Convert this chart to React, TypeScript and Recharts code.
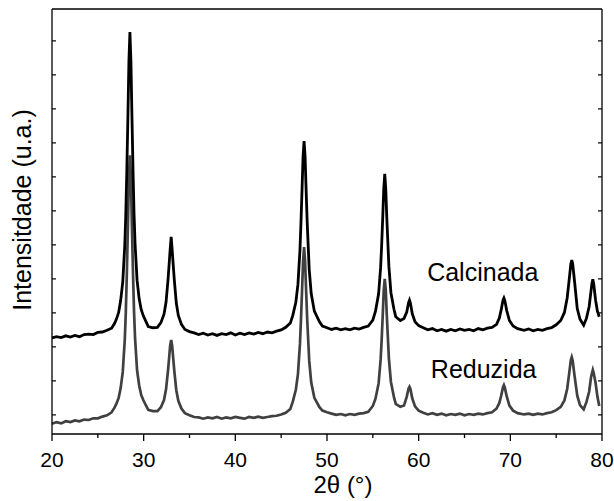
import {Label, Line, LineChart, ReferenceDot, ReferenceLine, XAxis, YAxis} from "recharts";

const twoTheta = [
    20.0, 20.5, 21.0, 21.5, 22.0, 22.5, 23.0, 23.5, 24.0, 24.5, 25.0, 25.5, 26.0, 26.5, 26.82,
    27.04, 27.27, 27.49, 27.72, 27.94, 28.05, 28.16, 28.28, 28.39, 28.5, 28.61, 28.72, 28.84, 28.95, 29.06,
    29.28, 29.51, 29.73, 29.96, 30.18, 30.5, 31.0, 31.5, 31.88, 32.22, 32.44, 32.66, 32.78, 32.89, 33.0,
    33.11, 33.22, 33.34, 33.56, 33.78, 34.12, 34.5, 35.0, 35.5, 36.0, 36.5, 37.0, 37.5, 38.0, 38.5,
    39.0, 39.5, 40.0, 40.5, 41.0, 41.5, 42.0, 42.5, 43.0, 43.5, 44.0, 44.5, 45.0, 45.5, 46.0,
    46.27, 46.6, 46.83, 47.05, 47.16, 47.28, 47.39, 47.5, 47.61, 47.72, 47.84, 48.06, 48.28, 48.62, 49.18,
    49.5, 50.0, 50.5, 51.0, 51.5, 52.0, 52.5, 53.0, 53.5, 54.0, 54.5, 55.0, 55.29, 55.63, 55.85,
    55.96, 56.08, 56.19, 56.3, 56.41, 56.52, 56.75, 56.97, 57.31, 57.5, 58.0, 58.4, 58.7, 58.9, 59.0,
    59.1, 59.3, 59.6, 60.0, 60.5, 61.0, 61.5, 62.0, 62.5, 63.0, 63.5, 64.0, 64.5, 65.0, 65.5,
    66.0, 66.5, 67.0, 67.5, 68.0, 68.5, 68.8, 69.0, 69.2, 69.3, 69.4, 69.6, 69.9, 70.3, 70.8,
    71.5, 72.0, 72.5, 73.0, 73.5, 74.0, 74.5, 75.0, 75.5, 75.9, 76.2, 76.4, 76.6, 76.7, 76.8,
    77.0, 77.3, 77.6, 78.0, 78.3, 78.6, 78.8, 78.9, 79.0, 79.1, 79.3, 79.5, 79.7,
];

const calcinada = [
    22.6, 22.9, 22.7, 23.1, 22.8, 23.2, 22.9, 23.4, 23.5, 23.4, 23.9, 24.0, 24.4, 24.9, 26.0,
    27.1, 28.6, 31.4, 35.8, 44.4, 51.6, 61.7, 74.6, 87.7, 94.6, 87.7, 74.8, 62.0, 51.8, 44.8,
    36.2, 31.8, 29.3, 27.8, 26.8, 25.3, 25.0, 25.1, 26.2, 28.2, 31.0, 36.4, 40.0, 43.4, 46.4,
    43.3, 39.9, 36.3, 30.8, 27.9, 25.8, 24.6, 24.1, 23.8, 23.4, 23.7, 23.3, 23.6, 23.2, 23.6,
    23.4, 23.8, 23.3, 23.7, 23.4, 23.8, 23.5, 23.9, 23.6, 24.0, 23.8, 24.2, 24.5, 25.1, 26.1,
    27.9, 31.0, 35.2, 43.3, 49.7, 57.7, 65.4, 68.9, 65.3, 57.6, 49.8, 38.7, 33.0, 28.9, 26.4,
    25.4, 25.0, 24.6, 24.9, 24.5, 24.8, 24.5, 24.9, 24.7, 25.1, 25.4, 26.8, 28.9, 33.0, 39.2,
    44.3, 50.9, 57.6, 61.2, 57.7, 51.1, 39.5, 33.3, 29.3, 27.6, 26.7, 27.2, 28.7, 30.9, 31.5,
    30.8, 28.3, 26.4, 25.5, 25.0, 24.5, 24.8, 24.3, 24.6, 24.2, 24.6, 24.3, 24.7, 24.4, 24.6,
    24.3, 24.8, 24.5, 24.9, 25.1, 25.8, 27.3, 29.2, 31.5, 32.0, 31.4, 29.1, 26.7, 25.4, 24.8,
    24.4, 24.7, 24.3, 24.6, 24.4, 24.8, 25.0, 25.7, 26.7, 28.6, 32.0, 35.9, 40.0, 40.9, 40.1,
    36.0, 29.5, 27.0, 25.6, 27.2, 30.0, 33.6, 35.4, 36.4, 35.3, 31.5, 28.9, 27.6,
];

const reduzida = [
    2.4, 2.8, 2.5, 3.0, 2.8, 3.2, 3.0, 3.4, 3.3, 3.7, 3.7, 4.1, 4.4, 5.1, 6.2,
    7.2, 8.5, 10.8, 14.6, 22.2, 28.5, 37.4, 48.7, 60.2, 65.6, 60.3, 48.9, 37.6, 28.8, 22.6,
    15.0, 11.4, 9.2, 8.0, 7.0, 5.7, 5.4, 5.4, 6.3, 8.0, 10.5, 15.0, 18.0, 20.8, 22.1,
    20.7, 17.9, 14.9, 10.3, 7.8, 6.0, 4.9, 4.4, 4.0, 3.9, 3.6, 3.9, 3.7, 4.0, 3.6,
    3.9, 3.7, 4.0, 3.8, 3.6, 4.0, 3.8, 4.1, 3.8, 4.0, 4.2, 4.3, 4.6, 5.0, 5.9,
    7.6, 10.4, 14.1, 21.2, 26.9, 33.9, 40.6, 44.0, 40.6, 33.9, 27.0, 17.2, 12.1, 8.5, 6.3,
    5.5, 5.1, 4.8, 4.5, 4.7, 4.4, 4.7, 4.5, 4.8, 4.9, 5.2, 6.6, 8.3, 11.9, 17.5,
    22.0, 27.9, 33.8, 36.5, 33.9, 28.1, 17.8, 12.3, 8.6, 7.1, 6.4, 6.7, 8.8, 10.7, 11.1,
    10.6, 8.4, 6.5, 5.5, 5.0, 4.6, 4.9, 4.5, 4.8, 4.4, 4.7, 4.5, 4.8, 4.4, 4.7,
    4.5, 4.8, 4.6, 4.9, 5.1, 6.0, 7.3, 9.0, 11.0, 11.5, 10.9, 8.9, 6.7, 5.5, 4.9,
    4.6, 4.8, 4.5, 4.8, 4.6, 4.9, 5.1, 5.6, 6.4, 7.9, 10.6, 13.9, 17.4, 18.1, 17.3,
    13.8, 9.0, 6.8, 5.8, 7.5, 10.0, 13.3, 14.3, 15.1, 14.3, 12.0, 8.8, 6.6,
];

const xTicks = [20, 25, 30, 35, 40, 45, 50, 55, 60, 65, 70, 75, 80];
const yTicks = [4.5, 12.5, 20.5, 28.5, 36.5, 44.5, 52.5, 60.5, 68.5, 76.5, 84.5, 92.5];

const data = twoTheta.map((t, i) => ({t, calcinada: calcinada[i], reduzida: reduzida[i]}));

const FONT = "'Liberation Sans', Arial, sans-serif";

function XTick(props: any) {
    const {x, y, payload} = props;
    const major = payload.value % 10 === 0;
    return (
        <g>
            <line x1={x} x2={x} y1={y} y2={y + (major ? 7 : 4)} stroke="#000" strokeWidth={1.3}/>
            {major && (
                <text x={x} y={y + 33} textAnchor="middle" fontSize={21} fontFamily={FONT} fill="#000">
                    {payload.value}
                </text>
            )}
        </g>
    );
}

function SeriesName({viewBox, text}: any) {
    return (
        <text x={viewBox.x} y={viewBox.y} textAnchor="middle" fontSize={25} fontFamily={FONT} fill="#000">
            {text}
        </text>
    );
}

export default function App() {
    return (
        <div style={{position: "absolute", left: 0, top: 0, background: "#fff"}}>
            <LineChart width={614} height={501} data={data} margin={{top: 9, right: 0, bottom: 0, left: 0}}>
                <XAxis
                    dataKey="t"
                    type="number"
                    domain={[20, 80]}
                    ticks={xTicks}
                    interval={0}
                    height={67}
                    tickSize={0}
                    tickMargin={0}
                    tickLine={false}
                    tick={<XTick/>}
                    axisLine={{stroke: "#000", strokeWidth: 1.3}}
                >
                    <Label
                        content={({viewBox}: any) => (
                            <text x={viewBox.x + viewBox.width / 2 + 16} y={viewBox.y + 59} textAnchor="middle"
                                  fontSize={24} fontFamily={FONT} fill="#000">
                                2θ (°)
                            </text>
                        )}
                    />
                </XAxis>
                <YAxis
                    yAxisId="l"
                    type="number"
                    domain={[0, 100]}
                    ticks={yTicks}
                    interval={0}
                    width={52}
                    tickSize={-4}
                    tickFormatter={() => ""}
                    tickLine={{stroke: "#000", strokeWidth: 1.2}}
                    axisLine={{stroke: "#000", strokeWidth: 1.3}}
                    allowDataOverflow
                >
                    <Label
                        content={() => (
                            <text x={31} y={210} transform="rotate(-90, 31, 210)" textAnchor="middle"
                                  fontSize={25} fontFamily={FONT} fill="#000">
                                Intensitdade (u.a.)
                            </text>
                        )}
                    />
                </YAxis>
                <YAxis
                    yAxisId="r"
                    orientation="right"
                    type="number"
                    domain={[0, 100]}
                    ticks={yTicks}
                    interval={0}
                    width={12}
                    tickSize={-4}
                    tickFormatter={() => ""}
                    tickLine={{stroke: "#000", strokeWidth: 1.2}}
                    axisLine={{stroke: "#000", strokeWidth: 1.3}}
                    allowDataOverflow
                />
                <ReferenceLine yAxisId="l" y={100} stroke="#000" strokeWidth={1.3}/>
                <Line yAxisId="l" type="linear" dataKey="reduzida" stroke="#404040" strokeWidth={2.7} dot={false}
                      isAnimationActive={false}/>
                <Line yAxisId="l" type="linear" dataKey="calcinada" stroke="#000" strokeWidth={2.8} dot={false}
                      isAnimationActive={false}/>
                <ReferenceDot yAxisId="l" x={67.1} y={35.8} r={1} fill="none" stroke="none"
                              label={<SeriesName text="Calcinada"/>}/>
                <ReferenceDot yAxisId="l" x={67.2} y={13} r={1} fill="none" stroke="none"
                              label={<SeriesName text="Reduzida"/>}/>
            </LineChart>
        </div>
    );
}
